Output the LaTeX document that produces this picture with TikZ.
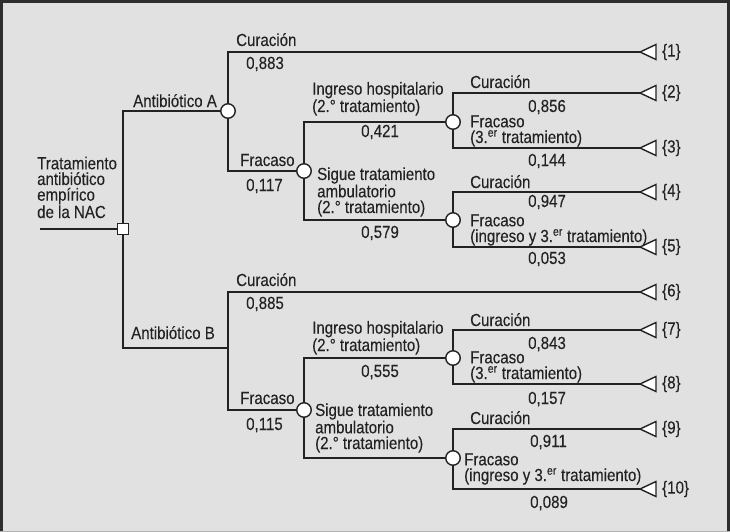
\documentclass[tikz,border=0pt]{standalone}
\usepackage{fontspec}
\setmainfont{Liberation Sans}[FakeStretch=0.86,FakeBold=0.15]
\definecolor{bg}{HTML}{E1E1E1}
\definecolor{ink}{HTML}{222222}
\definecolor{framec}{HTML}{2E2E2E}
\begin{document}
\begin{tikzpicture}[x=1pt,y=-1pt,
  lbl/.style={anchor=base west, inner sep=0pt, text=ink, align=left, font=\fontsize{17.5}{15.7}\selectfont},
  conn/.style={draw=ink, line width=1.4pt},
  chance/.style={circle, draw=ink, fill=white, line width=1.4pt, minimum size=14.5pt, inner sep=0pt},
  decision/.style={rectangle, draw=ink, fill=white, line width=1.4pt, minimum size=11pt, inner sep=0pt},
  endtri/.style={draw=ink, fill=white, line width=1.4pt, line join=miter}
]
\useasboundingbox (0,0) rectangle (730,532);
\fill[bg] (0,0) rectangle (730,532);
\draw[framec, line width=3pt] (1.5,532) -- (1.5,1.5) -- (728.5,1.5) -- (728.5,532);
\draw[gray!60, line width=1pt] (0,531.5) -- (730,531.5);

% decision / chance nodes
\coordinate (start) at (40,229);
\node[decision] (sq) at (123,229) {};
\node[chance] (cA) at (228,111) {};
\coordinate (jB) at (228,348);
\node[chance] (cFA) at (304,171) {};
\node[chance] (cIA) at (453,122) {};
\node[chance] (cSA) at (453,220) {};
\node[chance] (cFB) at (304,410) {};
\node[chance] (cIB) at (453,358) {};
\node[chance] (cSB) at (453,458) {};

% terminal points
\coordinate (t1) at (640,52);
\coordinate (t2) at (640,93);
\coordinate (t3) at (640,148);
\coordinate (t4) at (640,192);
\coordinate (t5) at (640,247);
\coordinate (t6) at (640,292);
\coordinate (t7) at (640,330);
\coordinate (t8) at (640,384);
\coordinate (t9) at (640,429);
\coordinate (t10) at (640,489);

% connectors
\draw[conn] (start) -- (sq);
\draw[conn] (cA) -| (sq);
\draw[conn] (sq) |- (jB);
\draw[conn] (t1) -| (cA);
\draw[conn] (cA) |- (cFA);
\draw[conn] (cIA) -| (cFA);
\draw[conn] (cFA) |- (cSA);
\draw[conn] (t2) -| (cIA);
\draw[conn] (cIA) |- (t3);
\draw[conn] (t4) -| (cSA);
\draw[conn] (cSA) |- (t5);
\draw[conn] (t6) -| (jB);
\draw[conn] (jB) |- (cFB);
\draw[conn] (cIB) -| (cFB);
\draw[conn] (cFB) |- (cSB);
\draw[conn] (t7) -| (cIB);
\draw[conn] (cIB) |- (t8);
\draw[conn] (t9) -| (cSB);
\draw[conn] (cSB) |- (t10);

% terminal triangles and labels
\foreach \n in {1,...,10} {
  \draw[endtri] (t\n) -- ++(16,-7.5) -- ++(0,15) -- cycle;
  \node[lbl, anchor=west] (e\n) at ([xshift=22pt]t\n) {\{\n\}};
}

% labels (base = baseline of last line)
\node[lbl] (lRoot) at (37,218) {Tratamiento\\antibiótico\\empírico\\de la NAC};
\node[lbl] (lA) at (133,107) {Antibiótico A};
\node[lbl] (lB) at (131,339) {Antibiótico B};
\node[lbl] (lCA) at (236,46) {Curación};
\node[lbl] (pCA) at (246,69) {0,883};
\node[lbl] (lFA) at (240,166) {Fracaso};
\node[lbl] (pFA) at (246,191) {0,117};
\node[lbl] (lIA) at (312,112) {Ingreso hospitalario\\(2.° tratamiento)};
\node[lbl] (pIA) at (361,137) {0,421};
\node[lbl] (lSA) at (317,213) {Sigue tratamiento\\ambulatorio\\(2.° tratamiento)};
\node[lbl] (pSA) at (361,238) {0,579};
\node[lbl] (l2) at (470,88) {Curación};
\node[lbl] (p2) at (528,112) {0,856};
\node[lbl] (l3) at (470,143) {Fracaso\\(3.\textsuperscript{er} tratamiento)};
\node[lbl] (p3) at (528,166) {0,144};
\node[lbl] (l4) at (470,188) {Curación};
\node[lbl] (p4) at (528,207) {0,947};
\node[lbl] (l5) at (470,242) {Fracaso\\(ingreso y 3.\textsuperscript{er} tratamiento)};
\node[lbl] (p5) at (528,264) {0,053};
\node[lbl] (lCB) at (236,286) {Curación};
\node[lbl] (pCB) at (246,309) {0,885};
\node[lbl] (lFB) at (240,404) {Fracaso};
\node[lbl] (pFB) at (246,430) {0,115};
\node[lbl] (lIB) at (312,351) {Ingreso hospitalario\\(2.° tratamiento)};
\node[lbl] (pIB) at (361,377) {0,555};
\node[lbl] (lSB) at (315,449) {Sigue tratamiento\\ambulatorio\\(2.° tratamiento)};
\node[lbl] (l7) at (470,326) {Curación};
\node[lbl] (p7) at (528,349) {0,843};
\node[lbl] (l8) at (470,379) {Fracaso\\(3.\textsuperscript{er} tratamiento)};
\node[lbl] (p8) at (528,404) {0,157};
\node[lbl] (l9) at (470,424) {Curación};
\node[lbl] (p9) at (530,447) {0,911};
\node[lbl] (l10) at (464,481) {Fracaso\\(ingreso y 3.\textsuperscript{er} tratamiento)};
\node[lbl] (p10) at (530,508) {0,089};
\end{tikzpicture}
\end{document}
